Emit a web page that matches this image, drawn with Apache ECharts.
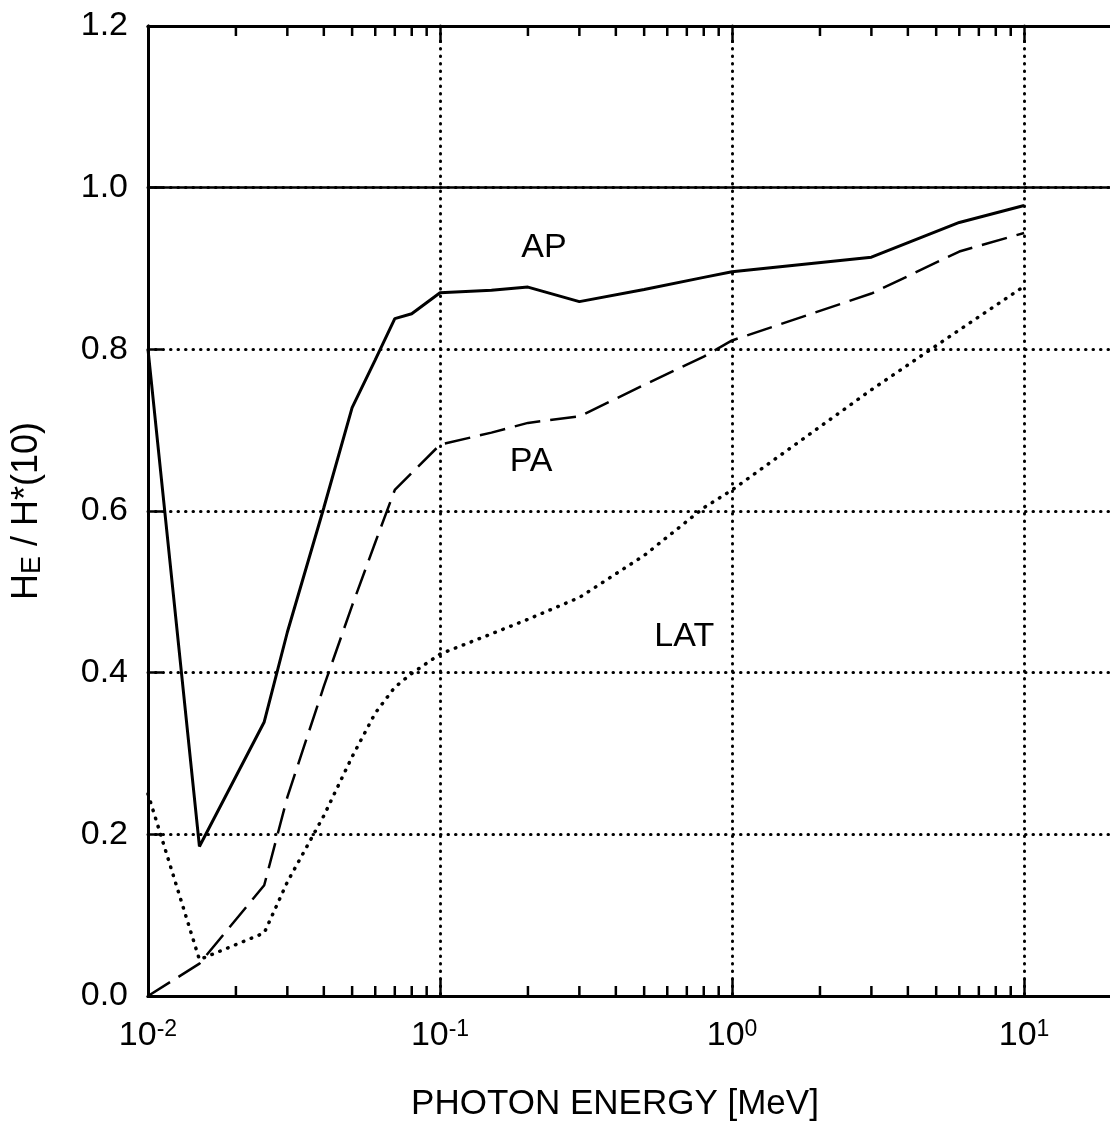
<!DOCTYPE html>
<html>
<head>
<meta charset="utf-8">
<script src="https://cdn.jsdelivr.net/npm/echarts@6/dist/echarts.min.js"></script>
<style>
html,body{margin:0;padding:0;background:#fff;overflow:hidden;}
#chart{width:1110px;height:1133px;}
</style>
</head>
<body>
<div id="chart"></div>
<script>
// Photon energies [MeV]
var energies = [0.01, 0.015, 0.025, 0.03, 0.04, 0.05, 0.06, 0.07, 0.08, 0.1, 0.15, 0.2, 0.3, 0.5, 0.8, 1, 3, 6, 10];
// HE / H*(10) ratios
var apValues  = [0.80, 0.185, 0.339, 0.450, 0.604, 0.728, 0.787, 0.838, 0.844, 0.870, 0.873, 0.877, 0.859, 0.874, 0.889, 0.896, 0.914, 0.957, 0.978];
var paValues  = [0.00, 0.040, 0.137, 0.246, 0.383, 0.483, 0.561, 0.626, 0.647, 0.682, 0.697, 0.709, 0.717, 0.756, 0.791, 0.811, 0.869, 0.921, 0.944];
var latValues = [0.25, 0.045, 0.078, 0.141, 0.223, 0.296, 0.350, 0.382, 0.399, 0.423, 0.448, 0.466, 0.493, 0.545, 0.604, 0.626, 0.750, 0.824, 0.878];
var referenceLevel = 1.0;
// minor log ticks (2..9 in each decade)
var minorTickEnergies = [0.02,0.03,0.04,0.05,0.06,0.07,0.08,0.09,0.2,0.3,0.4,0.5,0.6,0.7,0.8,0.9,2,3,4,5,6,7,8,9];
// curve annotation names and their anchor [energy, ratio]
var curveNames = ['AP', 'PA', 'LAT'];
var curveLabelAnchors = [[0.227, 0.926], [0.205, 0.661], [0.686, 0.444]];
var yTickLabels = ['0.0', '0.2', '0.4', '0.6', '0.8', '1.0', '1.2'];

var FONT = '"Liberation Sans", Arial, Helvetica, sans-serif';
var chart = echarts.init(document.getElementById('chart'));

function pairs(vals) { return energies.map(function (e, i) { return [e, vals[i]]; }); }
function annot(i) {
  return {
    symbol: 'circle', symbolSize: 0, silent: true,
    label: { show: true, position: 'inside', color: '#000', fontSize: 34, fontFamily: FONT, formatter: curveNames[i] },
    data: [{ coord: curveLabelAnchors[i] }]
  };
}
var gridDots = { color: '#000', width: 3, type: [0.5, 7], cap: 'round' };

var option = {
  backgroundColor: '#fff',
  animation: false,
  grid: { left: 148, width: 964, top: 26, bottom: 137, containLabel: false, outerBoundsMode: 'none' },
  xAxis: [{
    type: 'log', logBase: 10, min: 0.01, max: 20, position: 'bottom',
    axisLine: { show: true, lineStyle: { color: '#000', width: 3 } },
    axisTick: { show: true, inside: true, length: 17, lineStyle: { color: '#000', width: 2.5 } },
    minorTick: { show: false },
    splitLine: { show: true, lineStyle: gridDots },
    axisLabel: {
      margin: 22, color: '#000', fontFamily: FONT,
      formatter: function (v) {
        var l = Math.log10(v), r = Math.round(l);
        if (Math.abs(l - r) > 1e-6) return '';
        return '{b|10}{s|' + r + '}';
      },
      rich: {
        b: { fontSize: 34, fontFamily: FONT, color: '#000', lineHeight: 36 },
        s: { fontSize: 23, fontFamily: FONT, color: '#000', lineHeight: 22, verticalAlign: 'top' }
      }
    },
    name: 'PHOTON ENERGY [MeV]', nameLocation: 'middle', nameGap: 91,
    nameTextStyle: { fontSize: 35, color: '#000', fontFamily: FONT, padding: [0, 30, 0, 0] }
  }, {
    type: 'log', logBase: 10, min: 0.01, max: 20, position: 'top',
    axisLine: { show: true, lineStyle: { color: '#000', width: 3 } },
    axisTick: { show: true, inside: true, length: 17, lineStyle: { color: '#000', width: 2.5 } },
    axisLabel: { show: false },
    splitLine: { show: false }
  }],
  yAxis: [{
    type: 'value', min: 0, max: 1.2, interval: 0.2,
    axisLine: { show: true, lineStyle: { color: '#000', width: 3 } },
    axisTick: { show: true, inside: true, length: 14, lineStyle: { color: '#000', width: 2.5 } },
    splitLine: { show: true, lineStyle: gridDots },
    axisLabel: {
      margin: 20, color: '#000', fontSize: 34, fontFamily: FONT,
      formatter: function (v) { return yTickLabels[Math.round(v / 0.2)]; }
    },
    name: '{h|H}{e|E}{h| / H*(10)}', nameLocation: 'middle', nameGap: 102, nameRotate: 90,
    nameTextStyle: {
      color: '#000', fontFamily: FONT,
      rich: {
        h: { fontSize: 36, fontFamily: FONT, color: '#000', lineHeight: 38 },
        e: { fontSize: 27, fontFamily: FONT, color: '#000', lineHeight: 30, verticalAlign: 'bottom' }
      }
    }
  }],
  series: [{
    name: 'AP', type: 'line', xAxisIndex: 0, data: pairs(apValues),
    showSymbol: false, symbol: 'none', lineStyle: { color: '#000', width: 3, type: 'solid' },
    markPoint: annot(0),
    markLine: {
      silent: true, symbol: 'none', label: { show: false },
      lineStyle: { color: '#000', width: 2.5, type: 'solid' },
      data: [{ yAxis: referenceLevel }]
    }
  }, {
    name: 'PA', type: 'line', xAxisIndex: 0, data: pairs(paValues),
    showSymbol: false, symbol: 'none', lineStyle: { color: '#000', width: 2.5, type: [26, 10] },
    markPoint: annot(1)
  }, {
    name: 'LAT', type: 'line', xAxisIndex: 0, data: pairs(latValues),
    showSymbol: false, symbol: 'none', lineStyle: { color: '#000', width: 3.5, type: [0.5, 8], cap: 'round' },
    markPoint: annot(2)
  }, {
    name: 'minorTicks', type: 'custom', xAxisIndex: 0, silent: true, clip: false,
    data: minorTickEnergies.map(function (e) { return [e, 0]; }),
    encode: { x: 0, y: 1 },
    renderItem: function (params, api) {
      var x = api.coord([api.value(0), 0])[0];
      var cs = params.coordSys;
      var st = { stroke: '#000', lineWidth: 2.5 };
      return {
        type: 'group', children: [
          { type: 'line', shape: { x1: x, y1: cs.y + cs.height, x2: x, y2: cs.y + cs.height - 10 }, style: st },
          { type: 'line', shape: { x1: x, y1: cs.y, x2: x, y2: cs.y + 10 }, style: st }
        ]
      };
    }
  }]
};
chart.setOption(option);
</script>
</body>
</html>
